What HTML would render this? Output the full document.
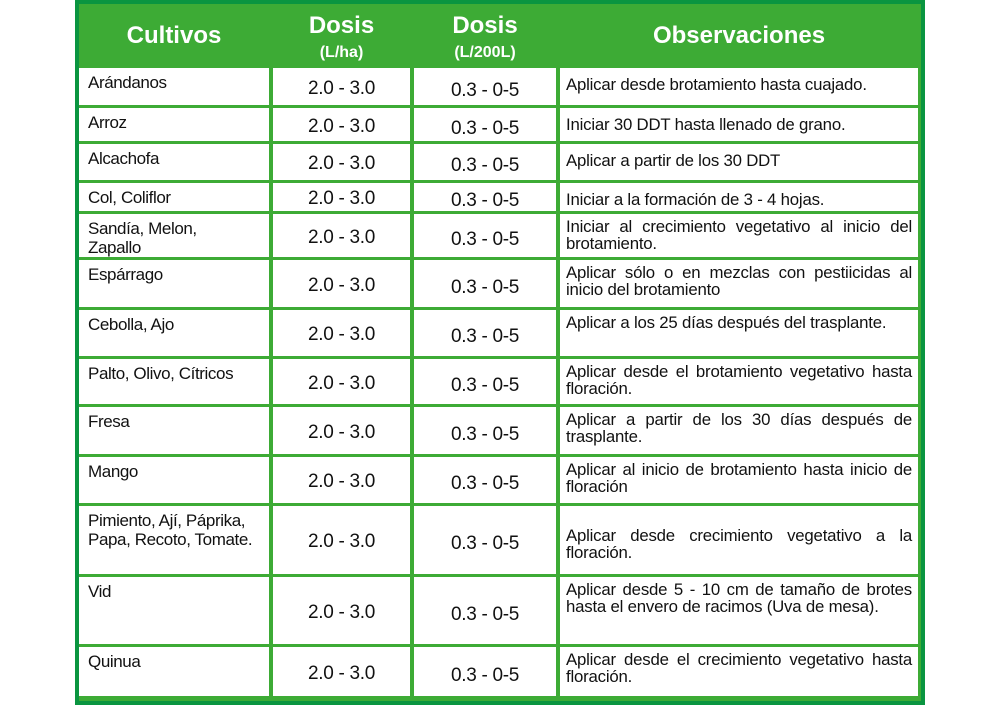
<!DOCTYPE html>
<html><head><meta charset="utf-8"><style>
body{margin:0;width:1000px;height:705px;background:#fff;position:relative;overflow:hidden;font-family:"Liberation Sans",sans-serif}
#t{position:absolute;left:75px;top:0;width:842px;height:697px;background:#3dab35;border:4px solid #0a9540}
.c{position:absolute;background:#fff;box-sizing:border-box;color:#111}
.a{padding:5px 0 0 9px;font-size:17px;line-height:19px;letter-spacing:-0.4px}
.n{text-align:center;font-size:19px;letter-spacing:-0.3px}
.o{padding:4px 6px 0 6px;font-size:16.8px;line-height:17px;text-align:justify;letter-spacing:-0.2px}
.h{position:absolute;color:#fff;font-weight:bold;text-align:center}
</style></head><body>
<div id="t"></div>
<div class="h" style="left:79px;width:190px;top:22px;font-size:24px">Cultivos</div>
<div class="h" style="left:273px;width:137px;top:14px;font-size:24px;line-height:24px">Dosis<br><span style="font-size:16px;line-height:18px">(L/ha)</span></div>
<div class="h" style="left:414px;width:142px;top:14px;font-size:24px;line-height:24px">Dosis<br><span style="font-size:16px;line-height:18px">(L/200L)</span></div>
<div class="h" style="left:560px;width:358px;top:22px;font-size:24px">Observaciones</div>
<div id="rows"></div>
<script>
var R=[[68,105,"Arándanos","Aplicar desde brotamiento hasta cuajado."],
[108,141,"Arroz","Iniciar 30 DDT hasta llenado de grano."],
[144,180,"Alcachofa","Aplicar a partir de los 30 DDT"],
[183,211,"Col, Coliflor","Iniciar a la formación de 3 - 4 hojas."],
[214,257,"Sandía, Melon,<br>Zapallo","Iniciar al crecimiento vegetativo al inicio del brotamiento."],
[260,307,"Espárrago","Aplicar sólo o en mezclas con pestiicidas al inicio del brotamiento"],
[310,356,"Cebolla, Ajo","Aplicar a los 25 días después del trasplante."],
[359,404,"Palto, Olivo, Cítricos","Aplicar desde el brotamiento vegetativo hasta floración."],
[407,454,"Fresa","Aplicar a partir de los 30 días después de trasplante."],
[457,503,"Mango","Aplicar al inicio de brotamiento hasta inicio de floración"],
[506,574,"Pimiento, Ají, Páprika,<br>Papa, Recoto, Tomate.","<div style='height:17px'></div>Aplicar desde crecimiento vegetativo a la floración."],
[577,644,"Vid","Aplicar desde 5 - 10 cm de tamaño de brotes hasta el envero de racimos (Uva de mesa)."],
[647,696,"Quinua","Aplicar desde el crecimiento vegetativo hasta floración."]];
var h="";R.forEach(function(r){var t=r[0],H=r[1]-r[0],p=Math.round(H/2-9);
h+='<div class="c a" style="left:79px;top:'+t+'px;width:190px;height:'+H+'px">'+r[2]+'</div>';
h+='<div class="c n" style="left:273px;top:'+t+'px;width:137px;height:'+H+'px;padding-top:'+p+'px">2.0 - 3.0</div>';
h+='<div class="c n" style="left:414px;top:'+t+'px;width:142px;height:'+H+'px;padding-top:'+(p+2)+'px">0.3 - 0-5</div>';
h+='<div class="c o" style="left:560px;top:'+t+'px;width:358px;height:'+H+'px;padding-top:'+(H<40?8:4)+'px">'+r[3]+'</div>';});
document.getElementById("rows").innerHTML=h;
</script>
</body></html>
